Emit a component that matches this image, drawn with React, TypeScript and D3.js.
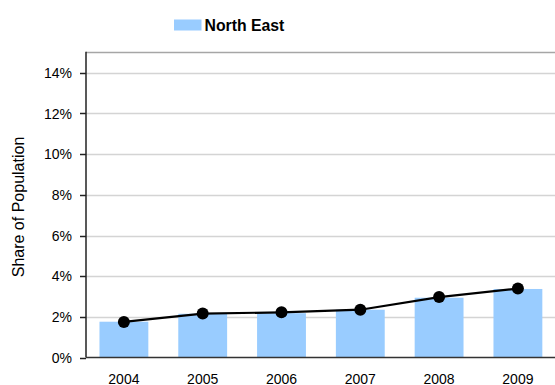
import React from "react";
import * as d3 from "d3";

// Share of population, North East region, 2004–2009
const years: string[] = ["2004", "2005", "2006", "2007", "2008", "2009"];
const barValues: number[] = [0.0176, 0.0215, 0.0218, 0.0235, 0.0294, 0.0337];
const lineValues: number[] = [0.0175, 0.0216, 0.0222, 0.0235, 0.0297, 0.0339];
const yTicks: number[] = [0, 0.02, 0.04, 0.06, 0.08, 0.1, 0.12, 0.14];
const seriesName = "North East";
const yTitle = "Share of Population";

const W = 555;
const H = 385;
const plot = { left: 86, right: 557, top: 52.5, bottom: 357.5 };
const FONT = "'Liberation Sans', Arial, Helvetica, sans-serif";

export default function App() {
  const x = d3
    .scaleBand<string>()
    .domain(years)
    .range([84.5, 557.3])
    .paddingInner(0.38)
    .paddingOuter(0.19);
  const y = d3.scaleLinear().domain([0, 0.15]).range([plot.bottom, plot.top]);
  const fmt = d3.format(".0%");

  const line = d3
    .line<number>()
    .x((_, i) => (x(years[i]) as number) + x.bandwidth() / 2)
    .y((d) => y(d));

  return (
    <svg
      width={W}
      height={H}
      style={{ position: "absolute", left: 0, top: 0, background: "#fff" }}
      fontFamily={FONT}
    >
      {/* legend */}
      <rect x={174} y={19.5} width={27.5} height={11} fill="#99ccff" />
      <text x={204.5} y={30.5} fontSize={15.8} fontWeight="bold" fill="#000">
        {seriesName}
      </text>

      {/* gridlines */}
      {yTicks.slice(1).map((t) => (
        <line
          key={t}
          x1={plot.left}
          x2={W}
          y1={Math.round(y(t)) + 0.5}
          y2={Math.round(y(t)) + 0.5}
          stroke="#d4d4d4"
          strokeWidth={1.5}
        />
      ))}
      {/* top border */}
      <line x1={plot.left} x2={W} y1={plot.top} y2={plot.top} stroke="#a6a6a6" strokeWidth={1.5} />

      {/* bars */}
      {years.map((yr, i) => (
        <rect
          key={yr}
          x={x(yr)}
          y={y(barValues[i])}
          width={x.bandwidth()}
          height={y(0) - y(barValues[i])}
          fill="#99ccff"
        />
      ))}

      {/* axes */}
      <line x1={plot.left} x2={plot.left} y1={plot.top - 0.75} y2={plot.bottom} stroke="#222" strokeWidth={1.5} />
      <line x1={plot.left} x2={W} y1={plot.bottom} y2={plot.bottom} stroke="#333" strokeWidth={1.5} />
      {yTicks.map((t) => (
        <g key={t}>
          <line
            x1={plot.left - 6}
            x2={plot.left}
            y1={Math.round(y(t)) + 0.5}
            y2={Math.round(y(t)) + 0.5}
            stroke="#222"
            strokeWidth={1.5}
          />
          <text x={72} y={y(t)} dy="0.36em" textAnchor="end" fontSize={14} fill="#000">
            {fmt(t)}
          </text>
        </g>
      ))}
      {years.map((yr) => (
        <text
          key={yr}
          x={(x(yr) as number) + x.bandwidth() / 2}
          y={383.5}
          textAnchor="middle"
          fontSize={14}
          fill="#000"
        >
          {yr}
        </text>
      ))}
      <text
        transform="translate(23.5,207) rotate(-90)"
        textAnchor="middle"
        fontSize={16}
        fill="#000"
      >
        {yTitle}
      </text>

      {/* line series */}
      <path d={line(lineValues) ?? ""} fill="none" stroke="#000" strokeWidth={2.2} />
      {lineValues.map((v, i) => (
        <circle
          key={i}
          cx={(x(years[i]) as number) + x.bandwidth() / 2}
          cy={y(v)}
          r={6}
          fill="#000"
        />
      ))}
    </svg>
  );
}
